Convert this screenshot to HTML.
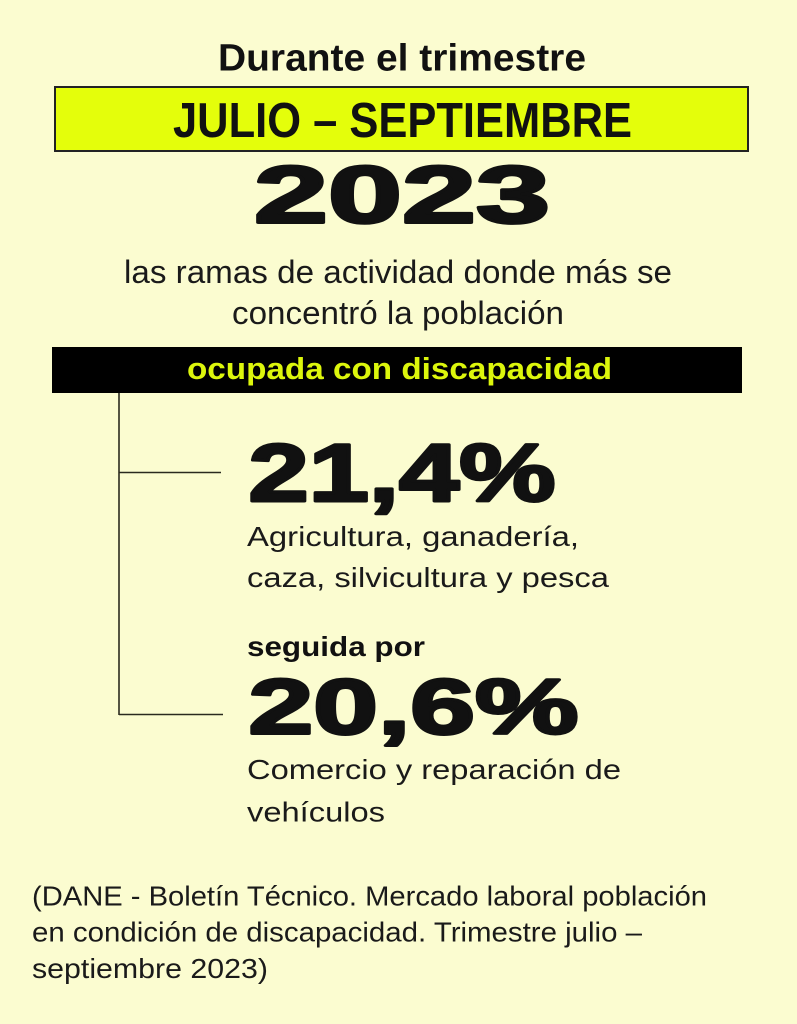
<!DOCTYPE html>
<html>
<head>
<meta charset="utf-8">
<style>
  html, body { margin:0; padding:0; background:#fbfcd0; }
  svg { display:block; }
  .sans { font-family: "Liberation Sans", "DejaVu Sans", sans-serif; }
</style>
</head>
<body>
<svg width="797" height="1024" viewBox="0 0 797 1024" xmlns="http://www.w3.org/2000/svg">
  <rect x="0" y="0" width="797" height="1024" fill="#fbfcd0"/>

  <!-- Title -->
  <text class="sans" x="218" y="70.5" font-size="38" font-weight="bold" fill="#111" textLength="368" lengthAdjust="spacingAndGlyphs">Durante el trimestre</text>

  <!-- Yellow box -->
  <rect x="55" y="87" width="693" height="64" fill="#e4fe0b" stroke="#222" stroke-width="2"/>
  <text class="sans" x="173" y="137" font-size="49" font-weight="bold" fill="#111" textLength="459" lengthAdjust="spacingAndGlyphs">JULIO – SEPTIEMBRE</text>

  <!-- 2023 -->
  <text class="sans" x="254" y="222.5" font-size="81" font-weight="bold" fill="#111" stroke="#111" stroke-width="3" stroke-linejoin="round" textLength="296" lengthAdjust="spacingAndGlyphs">2023</text>

  <!-- Subtitle -->
  <text class="sans" x="124" y="283" font-size="32" fill="#1a1a1a" textLength="548" lengthAdjust="spacingAndGlyphs">las ramas de actividad donde más se</text>
  <text class="sans" x="232" y="324" font-size="32" fill="#1a1a1a" textLength="332" lengthAdjust="spacingAndGlyphs">concentró la población</text>

  <!-- Black bar -->
  <rect x="52" y="347" width="690" height="46" fill="#000"/>
  <text class="sans" x="187" y="379" font-size="31" font-weight="bold" fill="#dcf60c" textLength="425" lengthAdjust="spacingAndGlyphs">ocupada con discapacidad</text>

  <!-- Connector lines -->
  <line x1="119" y1="393" x2="119" y2="715" stroke="#2a2a1e" stroke-width="1.6"/>
  <line x1="119" y1="472.5" x2="221" y2="472.5" stroke="#2a2a1e" stroke-width="1.6"/>
  <line x1="119" y1="714.5" x2="223" y2="714.5" stroke="#2a2a1e" stroke-width="1.6"/>

  <!-- 21,4% -->
  <text class="sans" x="248.5" y="501" font-size="82" font-weight="bold" fill="#111" stroke="#111" stroke-width="3" stroke-linejoin="round" textLength="307" lengthAdjust="spacingAndGlyphs">21,4%</text>
  <text class="sans" x="247" y="546" font-size="28" fill="#1a1a1a" textLength="332" lengthAdjust="spacingAndGlyphs">Agricultura, ganadería,</text>
  <text class="sans" x="247" y="587" font-size="28" fill="#1a1a1a" textLength="362" lengthAdjust="spacingAndGlyphs">caza, silvicultura y pesca</text>

  <!-- seguida por -->
  <text class="sans" x="247" y="656" font-size="28" font-weight="bold" fill="#111" textLength="178" lengthAdjust="spacingAndGlyphs">seguida por</text>

  <!-- 20,6% -->
  <text class="sans" x="248.5" y="733.5" font-size="78" font-weight="bold" fill="#111" stroke="#111" stroke-width="3" stroke-linejoin="round" textLength="330" lengthAdjust="spacingAndGlyphs">20,6%</text>
  <text class="sans" x="247" y="779" font-size="28" fill="#1a1a1a" textLength="374" lengthAdjust="spacingAndGlyphs">Comercio y reparación de</text>
  <text class="sans" x="247" y="821.5" font-size="28" fill="#1a1a1a" textLength="138" lengthAdjust="spacingAndGlyphs">vehículos</text>

  <!-- Footnote -->
  <text class="sans" x="32" y="905.5" font-size="28" fill="#1a1a1a" textLength="675" lengthAdjust="spacingAndGlyphs">(DANE - Boletín Técnico. Mercado laboral población</text>
  <text class="sans" x="32" y="941.5" font-size="28" fill="#1a1a1a" textLength="610" lengthAdjust="spacingAndGlyphs">en condición de discapacidad. Trimestre julio –</text>
  <text class="sans" x="32" y="978" font-size="28" fill="#1a1a1a" textLength="236" lengthAdjust="spacingAndGlyphs">septiembre 2023)</text>
</svg>
</body>
</html>
